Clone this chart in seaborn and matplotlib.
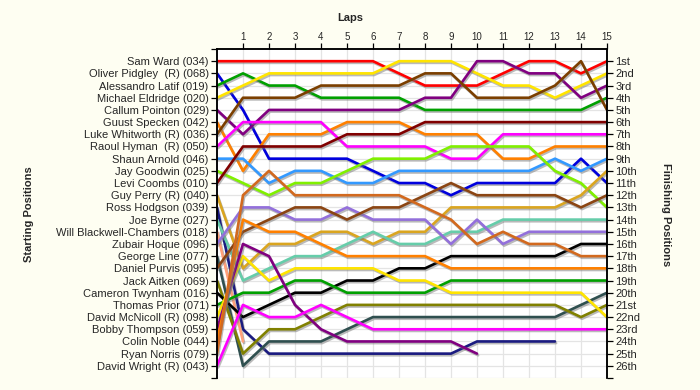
import pandas as pd
import numpy as np
import seaborn as sns
import matplotlib
matplotlib.use('Agg')
import matplotlib.pyplot as plt
import matplotlib.patheffects as pe

nan = np.nan
laps = list(range(0, 16))

drivers = ['Sam Ward (034)', 'Oliver Pidgley  (R) (068)', 'Alessandro Latif (019)',
           'Michael Eldridge (020)', 'Callum Pointon (029)', 'Guust Specken (042)',
           'Luke Whitworth (R) (036)', 'Raoul Hyman  (R) (050)', 'Shaun Arnold (046)',
           'Jay Goodwin (025)', 'Levi Coombs (010)', 'Guy Perry (R) (040)',
           'Ross Hodgson (039)', 'Joe Byrne (027)', 'Will Blackwell-Chambers (018)',
           'Zubair Hoque (096)', 'George Line (077)', 'Daniel Purvis (095)',
           'Jack Aitken (069)', 'Cameron Twynham (016)', 'Thomas Prior (071)',
           'David McNicoll (R) (098)', 'Bobby Thompson (059)', 'Colin Noble (044)',
           'Ryan Norris (079)', 'David Wright (R) (043)']

colors = ['#FF0000', '#0000DD', '#00A000', '#FFE400', '#800080', '#FF8000',
          '#7B3F00', '#FF00FF', '#3399FF', '#80F000', '#800000', '#DAA520',
          '#1A1A80', '#66CDAA', '#FFA07A', '#9370DB', '#2F4F4F', '#8B4513',
          '#808000', '#000000', '#00A000', '#FFE400', '#800080', '#FF8000',
          '#D2691E', '#FF00FF']

# position of each driver at laps 0..15 (nan = retired)
positions = [
    [1, 1, 1, 1, 1, 1, 1, 2, 3, 3, 3, 2, 1, 1, 2, 1],
    [2, 5, 9, 9, 9, 9, 10, 11, 11, 12, 11, 11, 11, 11, 9, 11],
    [3, 2, 3, 3, 4, 4, 4, 4, 5, 5, 5, 5, 5, 5, 5, 4],
    [4, 3, 2, 2, 2, 2, 2, 1, 1, 1, 2, 3, 3, 4, 3, 2],
    [5, 7, 5, 5, 5, 5, 5, 5, 4, 4, 1, 1, 2, 2, 4, 3],
    [6, 10, 7, 7, 7, 6, 6, 6, 7, 7, 7, 9, 9, 8, 8, 8],
    [7, 4, 4, 4, 3, 3, 3, 3, 2, 2, 4, 4, 4, 3, 1, 5],
    [8, 6, 6, 6, 6, 8, 8, 8, 8, 9, 9, 7, 7, 7, 7, 7],
    [9, 9, 11, 10, 10, 11, 11, 10, 10, 10, 10, 10, 10, 9, 10, 9],
    [10, 11, 12, 11, 11, 10, 9, 9, 9, 8, 8, 8, 8, 10, 11, 13],
    [11, 8, 8, 8, 8, 7, 7, 7, 6, 6, 6, 6, 6, 6, 6, 6],
    [12, 18, 16, 16, 15, 15, 16, 15, 15, 13, 13, 13, 13, 13, 12, 10],
    [13, 23, 25, 25, 25, 25, 25, 25, 25, 25, 24, 24, 24, 24, nan, nan],
    [14, 19, 18, 17, 17, 16, 15, 16, 16, 15, 15, 14, 14, 14, 14, 14],
    [15, 24, nan, nan, nan, nan, nan, nan, nan, nan, nan, nan, nan, nan, nan, nan],
    [16, 13, 13, 14, 14, 13, 14, 14, 14, 16, 14, 16, 15, 15, 15, 15],
    [17, 26, 24, 24, 24, 23, 22, 22, 22, 22, 22, 22, 22, 22, 21, 20],
    [18, 15, 14, 13, 13, 14, 13, 13, 12, 11, 12, 12, 12, 12, 13, 12],
    [19, 25, 23, 23, 22, 21, 21, 21, 21, 21, 21, 21, 21, 21, 22, 21],
    [20, 22, 21, 20, 20, 19, 19, 18, 18, 17, 17, 17, 17, 17, 16, 16],
    [21, 20, 20, 19, 19, 20, 20, 20, 20, 19, 19, 19, 19, 19, 19, 19],
    [22, 17, 19, 18, 18, 18, 18, 19, 19, 20, 20, 20, 20, 20, 20, 22],
    [23, 16, 17, 21, 23, 24, 24, 24, 24, 24, 25, nan, nan, nan, nan, nan],
    [24, 14, 15, 15, 16, 17, 17, 17, 17, 18, 18, 18, 18, 18, 18, 18],
    [25, 12, 10, 12, 12, 12, 12, 12, 13, 14, 16, 15, 16, 16, 17, 17],
    [26, 21, 22, 22, 21, 22, 23, 23, 23, 23, 23, 23, 23, 23, 23, 23],
]

finish_labels = ['1st', '2nd', '3rd', '4th', '5th', '6th', '7th', '8th', '9th', '10th',
                 '11th', '12th', '13th', '14th', '15th', '16th', '17th', '18th', '19th',
                 '20th', '21st', '22nd', '23rd', '24th', '25th', '26th']

rows = []
for name, pos in zip(drivers, positions):
    for lap, p in zip(laps, pos):
        rows.append({'driver': name, 'lap': lap, 'pos': p})
df = pd.DataFrame(rows).dropna()

sns.set_style('white')
plt.rcParams['font.family'] = ['Liberation Sans', 'DejaVu Sans']

bg = '#FEFEF2'
fig = plt.figure(figsize=(7, 3.9), dpi=100, facecolor=bg)
ax = fig.add_axes([217/700, 1 - 378/390, 390/700, 329/390])
ax.set_facecolor('white')

shadow = [pe.SimpleLineShadow(offset=(0.8, -1.2), shadow_color='#777777', alpha=0.5),
          pe.Normal()]
sns.lineplot(data=df, x='lap', y='pos', hue='driver', hue_order=drivers,
             palette=dict(zip(drivers, colors)), estimator=None, sort=False,
             legend=False, linewidth=1.9, path_effects=shadow, ax=ax)

ax.set_xlim(0, 15)
ax.set_ylim(27, 0)

# grid
for l in range(1, 15):
    ax.axvline(l, color='#E4E4E4', lw=0.9, zorder=0)
for p in range(1, 28):
    ax.axhline(p, color='#E4E4E4', lw=0.9, zorder=0)

ax.xaxis.tick_top()
ax.set_xticks(range(1, 16))
ax.set_xticklabels([str(i) for i in range(1, 16)], fontsize=7)
ax.set_yticks([0] + list(range(1, 27)) + [27])
ax.set_yticklabels([''] + drivers + [''], fontsize=8)
ax.tick_params(axis='both', direction='out', length=4, width=0.9, color='black', pad=2)
ax.tick_params(axis='y', left=True)
ax.tick_params(axis='x', top=True, pad=1)
ax.set_xlabel('')
ax.set_ylabel('')

ax2 = ax.twinx()
ax2.set_ylim(27, 0)
ax2.set_yticks(list(range(1, 27)) + [27])
ax2.set_yticklabels(finish_labels + [''], fontsize=8)
ax2.tick_params(axis='y', direction='out', length=4, width=0.9, color='black', pad=2, right=True)

for a in (ax, ax2):
    a.spines['bottom'].set_visible(False)
    a.spines['top'].set_color('black')
    a.spines['left'].set_color('black')
    a.spines['right'].set_color('black')
    for s in ('top', 'left', 'right'):
        a.spines[s].set_linewidth(1.1)

fig.text(0.5, 0.955, 'Laps', ha='center', va='center', fontsize=8, fontweight='bold')
fig.text(0.041, 0.45, 'Starting Positions', ha='center', va='center', rotation=90,
         fontsize=8, fontweight='bold')
fig.text(0.951, 0.45, 'Finishing Positions', ha='center', va='center', rotation=270,
         fontsize=8, fontweight='bold')

fig.savefig('out.png', dpi=100, facecolor=bg)
